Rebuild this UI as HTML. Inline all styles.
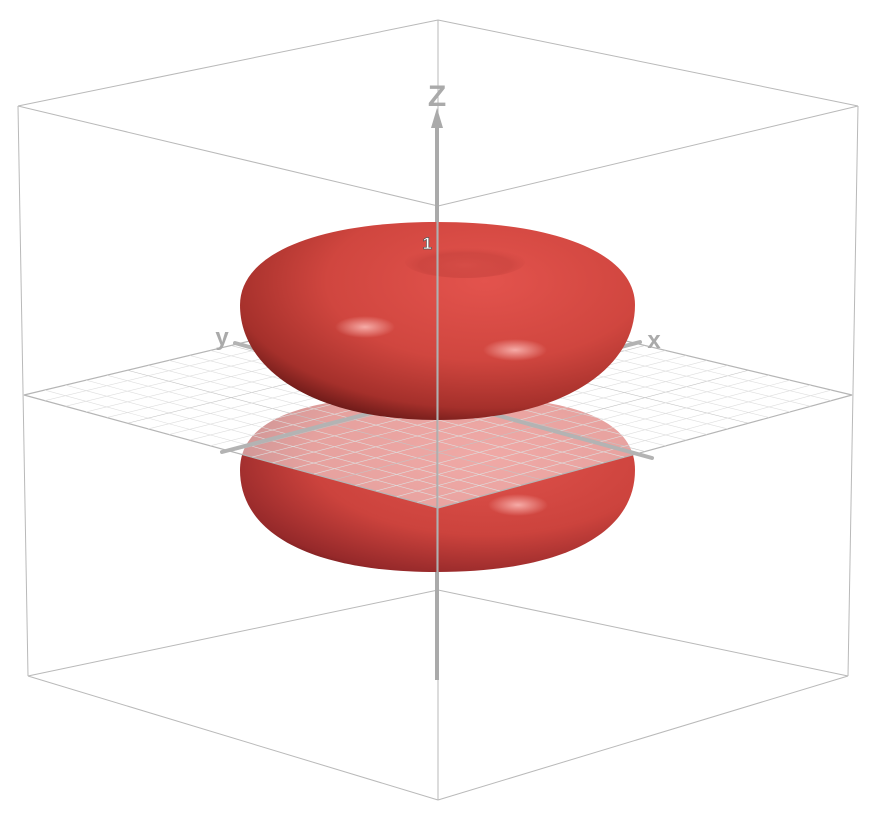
<!DOCTYPE html>
<html><head><meta charset="utf-8"><style>
html,body{margin:0;padding:0;background:#fff;}
svg{display:block;font-family:"Liberation Sans",sans-serif;}
</style></head><body>
<svg id="chart" width="877" height="816" viewBox="0 0 877 816">
<defs>
 <radialGradient id="gUp" cx="0.62" cy="0.3" r="0.8">
  <stop offset="0" stop-color="#e3534d"/><stop offset="0.5" stop-color="#d0463f"/><stop offset="0.8" stop-color="#a5302b"/><stop offset="1" stop-color="#4a0d0d"/>
 </radialGradient>
 <radialGradient id="gLo" cx="0.62" cy="0.35" r="0.8">
  <stop offset="0" stop-color="#e0524c"/><stop offset="0.55" stop-color="#cc433d"/><stop offset="0.85" stop-color="#96292a"/><stop offset="1" stop-color="#450d0d"/>
 </radialGradient>
 <radialGradient id="gHi"><stop offset="0" stop-color="#ffc4c0" stop-opacity="0.8"/><stop offset="1" stop-color="#ffc4c0" stop-opacity="0"/></radialGradient>
 <radialGradient id="gHole" cx="0.5" cy="0.6" r="0.55"><stop offset="0" stop-color="#d24b45"/><stop offset="0.7" stop-color="#bd3d38" stop-opacity="0.6"/><stop offset="1" stop-color="#c9443e" stop-opacity="0"/></radialGradient>
 <clipPath id="planeClip"><polygon points="24,395 438,296 852,395 438,508"/></clipPath>
</defs>
<g id="back" stroke="#b9b9b9" stroke-width="1" fill="none">
 <line x1="18" y1="106" x2="438" y2="20"/><line x1="438" y1="20" x2="858" y2="106"/>
 <line x1="438" y1="20" x2="438" y2="296"/>
 <line x1="28" y1="676" x2="438" y2="590"/><line x1="438" y1="590" x2="848" y2="676"/>
 <line x1="18" y1="106" x2="28" y2="676"/><line x1="858" y1="106" x2="848" y2="676"/>
</g>
<path fill="url(#gLo)" d="M240,470 C240,420 300,395 437,395 C575,395 635,420 635,470 C635,535 560,572 437,572 C314,572 240,535 240,470 Z"/>
<ellipse cx="518" cy="505" rx="30" ry="11" fill="url(#gHi)"/>
<g id="plane">
 <polygon points="24,395 438,296 852,395 438,508" fill="#fff" fill-opacity="0.5" stroke="#b5b5b5" stroke-width="1.2"/>
 <g id="grid" clip-path="url(#planeClip)" stroke="#dedede" stroke-width="0.6"></g>
</g>
<g id="axes" stroke="#b3b3b3" stroke-width="4" stroke-linecap="round">
 <line x1="222" y1="452" x2="640" y2="342"/>
 <line x1="652" y1="458" x2="235" y2="343"/>
</g>
<text x="222" y="345" font-size="24" font-weight="bold" fill="#aaa" text-anchor="middle">y</text>
<text x="654" y="348" font-size="24" font-weight="bold" fill="#aaa" text-anchor="middle">x</text>
<path fill="url(#gUp)" d="M437,222 C560,222 635,255 635,305 C635,370 560,420 437,420 C314,420 240,370 240,305 C240,255 314,222 437,222 Z"/>
<ellipse cx="465" cy="262" rx="60" ry="16" fill="url(#gHole)" opacity="0.7"/>
<ellipse cx="365" cy="327" rx="30" ry="11" fill="url(#gHi)"/>
<ellipse cx="515" cy="350" rx="32" ry="11" fill="url(#gHi)"/>
<g stroke="#b9b9b9" stroke-width="1" fill="none">
 <line x1="18" y1="106" x2="438" y2="206"/><line x1="858" y1="106" x2="438" y2="206"/>
 <line x1="28" y1="676" x2="438" y2="800"/><line x1="848" y1="676" x2="438" y2="800"/>
 <line x1="438" y1="206" x2="438" y2="800"/>
</g>
<g fill="#aaa" stroke="#aaa">
 <line x1="437" y1="120" x2="437" y2="222" stroke-width="4"/>
 <line x1="437" y1="222" x2="437" y2="572" stroke-width="1.2"/>
 <line x1="437" y1="572" x2="437" y2="680" stroke-width="4"/>
 <polygon points="437,108 431,128 443,128" stroke="none"/>
</g>
<text x="437" y="106" font-size="30" font-weight="bold" fill="#aaa" text-anchor="middle">Z</text>
<text x="432" y="249" font-size="17" font-weight="bold" fill="#fff" stroke="#555" stroke-width="0.7" text-anchor="end">1</text>
</svg>
<script>
const gridDivisions = [20];
const zTicks = [1];
const g = document.getElementById('grid');
const L=[24,395],B=[438,296],R=[852,395],F=[438,508];
const n=gridDivisions[0];
function lerp(a,b,t){return [a[0]+(b[0]-a[0])*t,a[1]+(b[1]-a[1])*t];}
for(let i=1;i<n;i++){
 const t=i/n;
 const a=lerp(L,B,t),b=lerp(F,R,t);
 const c=lerp(L,F,t),d=lerp(B,R,t);
 [[a,b],[c,d]].forEach(p=>{
  const l=document.createElementNS('http://www.w3.org/2000/svg','line');
  l.setAttribute('x1',p[0][0]);l.setAttribute('y1',p[0][1]);
  l.setAttribute('x2',p[1][0]);l.setAttribute('y2',p[1][1]);
  if(i%5===0){l.setAttribute('stroke','#c4c4c4');}
  
  
  g.appendChild(l);
 });
}
</script>
</body></html>
